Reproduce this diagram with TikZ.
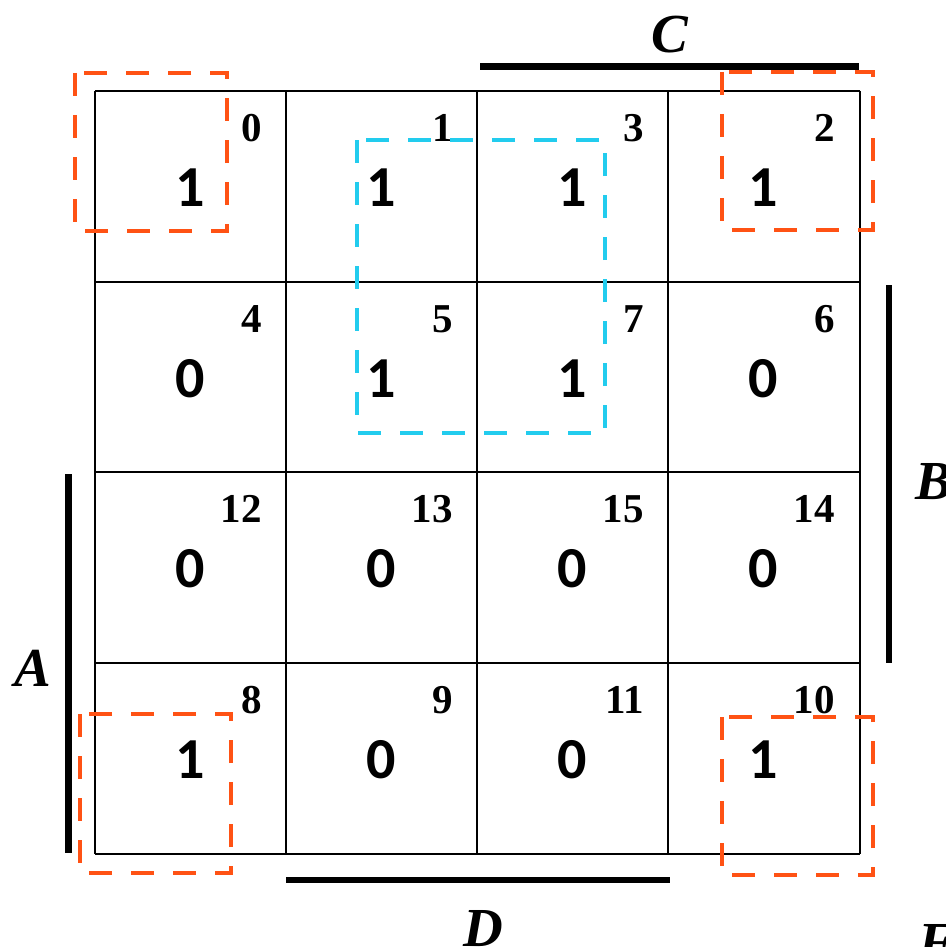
\documentclass[tikz,border=0pt]{standalone}
\usepackage{fontspec}
\setmainfont{Liberation Serif}
\newfontfamily\bigdig{Carlito}
\definecolor{kor}{HTML}{FF5214}
\definecolor{kcy}{HTML}{22CCEE}
\begin{document}
\begin{tikzpicture}[x=1pt,y=-1pt,
  gridline/.style={line width=2pt,black},
  bar/.style={line width=6.5pt,black},
  grp/.style={line width=4.5pt,dash pattern=on 23pt off 19pt},
  idx/.style={anchor=east,inner sep=0pt,font=\fontsize{41}{43}\selectfont\bfseries},
  val/.style={inner sep=0pt,font=\bigdig\fontsize{58}{60}\selectfont\bfseries},
  var/.style={inner sep=0pt,font=\fontsize{55}{57}\selectfont\bfseries\itshape}]
\useasboundingbox (0,0) rectangle (945,947);
% grid
\foreach \x in {95,286,477,668,860} \draw[gridline] (\x,91) -- (\x,854);
\foreach \y in {91,282,472,663,854} \draw[gridline] (95,\y) -- (860,\y);
% cells
\def\xs{{95,286,477,668}}
\def\ys{{91,282,472,663}}
\foreach \r/\c/\n/\v in {0/0/0/1,0/1/1/1,0/2/3/1,0/3/2/1,
                         1/0/4/0,1/1/5/1,1/2/7/1,1/3/6/0,
                         2/0/12/0,2/1/13/0,2/2/15/0,2/3/14/0,
                         3/0/8/1,3/1/9/0,3/2/11/0,3/3/10/1}{
  \pgfmathsetmacro\cx{\xs[\c]}
  \pgfmathsetmacro\cy{\ys[\r]}
  \node[idx] (i\n) at (\cx+167,\cy+37) {\n};
  \node[val] (v\n) at (\cx+95.5,\cy+97) {\v};
}
% groups
\draw[grp,kor] (75,73) rectangle (227,231);
\draw[grp,kor] (722,72) rectangle (873,230);
\draw[grp,kor] (80,714) rectangle (231,873);
\draw[grp,kor] (722,717) rectangle (873,875);
\draw[grp,kcy] (357,140) rectangle (605,433);
% variable bars
\draw[bar] (480,66.5) -- (859,66.5);
\draw[bar] (889,285) -- (889,663);
\draw[bar] (68.5,474) -- (68.5,853);
\draw[bar] (286,880) -- (670,880);
\node[var] (C) at (670,35) {C};
\node[var] (B) at (934,482) {B};
\node[var] (A) at (33,668) {A};
\node[var] (D) at (483,929) {D};
\node[var,anchor=north west] (F) at (918,924) {F};
\end{tikzpicture}
\end{document}
